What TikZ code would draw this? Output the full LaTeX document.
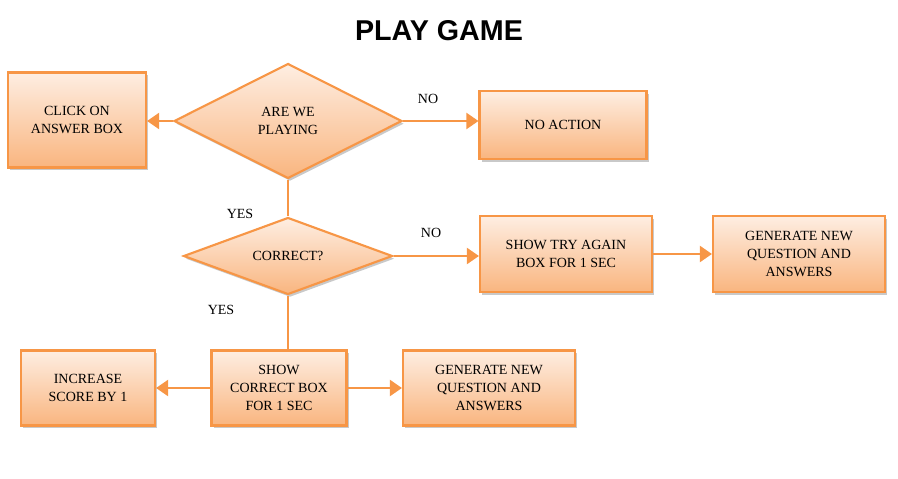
\documentclass[tikz,border=0pt]{standalone}
\usepackage{fontspec}
\setmainfont{Liberation Serif}
\newfontfamily\titlefont{Liberation Sans}
\usetikzlibrary{shapes.geometric,arrows.meta,shadows}
\definecolor{flowline}{HTML}{F79646}
\definecolor{flowtop}{HTML}{FEEEE2}
\definecolor{flowbot}{HTML}{F9B57F}
\tikzset{
  flowbox/.style={rectangle, draw=flowline, line width=1.6pt, top color=flowtop, bottom color=flowbot,
    align=center, inner sep=0pt, font=\fontsize{10.5}{13.3}\selectfont,
    drop shadow={shadow xshift=1.5pt, shadow yshift=-2pt, opacity=0.3, fill=black!70}},
  flowdec/.style={flowbox, diamond, aspect=2},
  flowconn/.style={draw=flowline, line width=1.6pt},
  flowarrow/.style={flowconn, -{Triangle[length=9pt,width=12pt]}},
  flowlabel/.style={font=\fontsize{10.5}{13.3}\selectfont},
}
\begin{document}
\begin{tikzpicture}[x=0.75pt,y=-0.75pt]
\useasboundingbox (0,0) rectangle (898,478);
% title
\node[font=\titlefont\bfseries\fontsize{21.5}{25}\selectfont] (title) at (439,31) {PLAY GAME};

% top row
\node[flowbox, minimum width=103.5pt, minimum height=71.25pt] (click) at (77,120) {CLICK ON\\ANSWER BOX};
\node[flowdec, minimum width=171pt, minimum height=86.25pt] (playing) at (288,121) {ARE WE\\PLAYING};
\node[flowbox, minimum width=125.25pt, minimum height=51pt] (noaction) at (563,125) {NO ACTION};

% middle row
\node[flowdec, minimum width=156.75pt, minimum height=57.75pt] (correct) at (288,256) {CORRECT?};
\node[flowbox, minimum width=129pt, minimum height=57pt] (tryagain) at (566,254) {SHOW TRY AGAIN\\BOX FOR 1 SEC};
\node[flowbox, minimum width=129pt, minimum height=57pt] (newq) at (799,254) {GENERATE NEW\\QUESTION AND\\ANSWERS};

% bottom row
\node[flowbox, minimum width=100.5pt, minimum height=56.25pt] (score) at (88,388) {INCREASE\\SCORE BY 1};
\node[flowbox, minimum width=101.25pt, minimum height=56.25pt] (showok) at (279,388) {SHOW\\CORRECT BOX\\FOR 1 SEC};
\node[flowbox, minimum width=129pt, minimum height=56.25pt] (newqb) at (489,388) {GENERATE NEW\\QUESTION AND\\ANSWERS};

% labels
\node[flowlabel] (nolabela) at (428,99) {NO};
\node[flowlabel] (yeslabela) at (240,214) {YES};
\node[flowlabel] (nolabelb) at (431,233) {NO};
\node[flowlabel] (yeslabelb) at (221,310) {YES};

% connectors
\draw[flowarrow] (playing.west) -- (playing.west -| click.east);
\draw[flowarrow] (playing.east) -- (playing.east -| noaction.west);
\draw[flowconn] (playing.south) -- (correct.north);
\draw[flowarrow] (correct.east) -- (correct.east -| tryagain.west);
\draw[flowarrow] (tryagain) -- (newq);
\draw[flowconn] (correct.south) -- (correct.south |- showok.north);
\draw[flowarrow] (showok) -- (score);
\draw[flowarrow] (showok) -- (newqb);
\end{tikzpicture}
\end{document}
